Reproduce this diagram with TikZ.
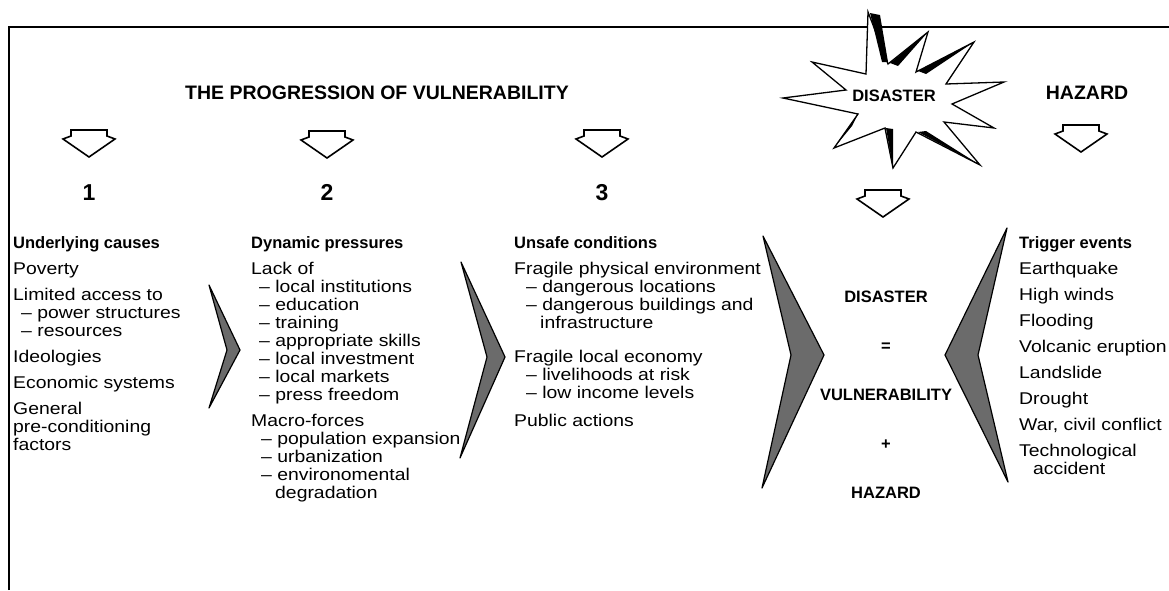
\documentclass[tikz,border=0pt]{standalone}
\usepackage{fontspec}
\setmainfont{Liberation Sans}
\newfontfamily\bodyfont{Liberation Sans}[FakeStretch=1.14]
\usetikzlibrary{arrows}

\begin{document}
\begin{tikzpicture}[x=1pt,y=-1pt]
  \tikzstyle{column}=[anchor=north west,align=left,inner sep=0pt,font=\bodyfont\fontsize{17}{18}\selectfont]
  \tikzstyle{chevron}=[draw=black,line width=1.2pt,fill=black!58,line join=round]
  \tikzstyle{hollow}=[draw=black,line width=1.6pt,fill=white,line join=miter]
  \tikzstyle{caps}=[inner sep=0pt,font=\bfseries\fontsize{19.5}{22}\selectfont]
  \tikzstyle{digit}=[anchor=base,inner sep=0pt,font=\bfseries\fontsize{23}{24}\selectfont]
  \tikzset{dnarrow/.pic={\draw[hollow] (-18,0) -- (18,0) -- (18,6) -- (26,9) -- (0,27) -- (-26,9) -- (-18,6) -- cycle;}}
  \newcommand{\head}[1]{{\normalfont\bfseries\fontsize{16.5}{18}\selectfont #1}}
  \newcommand{\dashitem}{\textendash\ }

  \useasboundingbox (0,0) rectangle (1169,590);
  \draw[line width=2pt] (9,590) -- (9,27) -- (1169,27); % Frame, top and left

  % Headings
  \node[caps] (title) at (377,93) {THE PROGRESSION OF VULNERABILITY};
  \node[caps] (hazard) at (1087,93) {HAZARD};

  % Burst round the disaster
  \draw[hollow,line width=1.3pt] (783,98) -- (846,90) -- (812,62) -- (866,74) -- (868,12) -- (888,64)
    -- (928,32) -- (916,72) -- (974,42) -- (946,84) -- (1004,82) -- (952,104)
    -- (994,128) -- (944,122) -- (980,165) -- (916,132) -- (893,168) -- (885,128)
    -- (834,148) -- (858,114) -- cycle;
  \fill (870,13) -- (880,15) -- (888,62) -- (882,62) -- cycle; % Shaded spikes
  \fill (928,32) -- (890,63) -- (898,66) -- cycle;
  \fill (974,42) -- (918,71) -- (926,74) -- cycle;
  \fill (980,165) -- (918,132) -- (926,131) -- cycle;
  \fill (893,168) -- (886,128) -- (893,129) -- cycle;
  \fill (834,148) -- (858,114) -- (852,126) -- cycle;
  \node[inner sep=0pt,font=\bfseries\fontsize{16.5}{18}\selectfont] (disaster) at (894,96) {DISASTER};

  % Down arrows
  \coordinate (a1) at (89,130);
  \coordinate (a2) at (327,131);
  \coordinate (a3) at (602,130);
  \coordinate (a4) at (883,190);
  \coordinate (a5) at (1081,125);
  \pic at (a1) {dnarrow};
  \pic at (a2) {dnarrow};
  \pic at (a3) {dnarrow};
  \pic at (a4) {dnarrow};
  \pic at (a5) {dnarrow};

  \node[digit] (n1) at (89,200) {1};
  \node[digit] (n2) at (327,200) {2};
  \node[digit] (n3) at (602,200) {3};

  % Columns
  \node[column] (causes) at (13,236) {\head{Underlying causes}\\[8pt]
    Poverty\\[8pt]
    Limited access to\\
    \hspace*{8pt}\dashitem power structures\\
    \hspace*{8pt}\dashitem resources\\[8pt]
    Ideologies\\[8pt]
    Economic systems\\[8pt]
    General\\
    pre-conditioning\\
    factors};
  \node[column] (pressures) at (251,236) {\head{Dynamic pressures}\\[8pt]
    Lack of\\
    \hspace*{8pt}\dashitem local institutions\\
    \hspace*{8pt}\dashitem education\\
    \hspace*{8pt}\dashitem training\\
    \hspace*{8pt}\dashitem appropriate skills\\
    \hspace*{8pt}\dashitem local investment\\
    \hspace*{8pt}\dashitem local markets\\
    \hspace*{8pt}\dashitem press freedom\\[8pt]
    Macro-forces\\
    \hspace*{10pt}\dashitem population expansion\\
    \hspace*{10pt}\dashitem urbanization\\
    \hspace*{10pt}\dashitem environomental\\
    \hspace*{24pt}degradation};
  \node[column] (unsafe) at (514,236) {\head{Unsafe conditions}\\[8pt]
    Fragile physical environment\\
    \hspace*{12pt}\dashitem dangerous locations\\
    \hspace*{12pt}\dashitem dangerous buildings and\\
    \hspace*{26pt}infrastructure\\[16pt]
    Fragile local economy\\
    \hspace*{12pt}\dashitem livelihoods at risk\\
    \hspace*{12pt}\dashitem low income levels\\[10pt]
    Public actions};
  \node[column] (trigger) at (1019,236) {\head{Trigger events}\\[8pt]
    Earthquake\\[8pt]
    High winds\\[8pt]
    Flooding\\[8pt]
    Volcanic eruption\\[8pt]
    Landslide\\[8pt]
    Drought\\[8pt]
    War, civil conflict\\[8pt]
    Technological\\
    \hspace*{14pt}accident};

  % Sum in the middle
  \node[align=center,inner sep=0pt,font=\bfseries\fontsize{16.5}{49}\selectfont] (sum) at (886,395)
    {DISASTER\\=\\VULNERABILITY\\+\\HAZARD};

  % Chevrons
  \draw[chevron] (209,285) -- (240,350) -- (209,408) -- (227,350) -- cycle; % 1 to 2
  \draw[chevron] (461,262) -- (505,357) -- (460,458) -- (487,357) -- cycle; % 2 to 3
  \draw[chevron] (763,236) -- (824,355) -- (762,488) -- (791,355) -- cycle; % 3 to sum
  \draw[chevron] (1007,228) -- (945,355) -- (1008,482) -- (978,355) -- cycle; % hazard to sum
\end{tikzpicture}
\end{document}
